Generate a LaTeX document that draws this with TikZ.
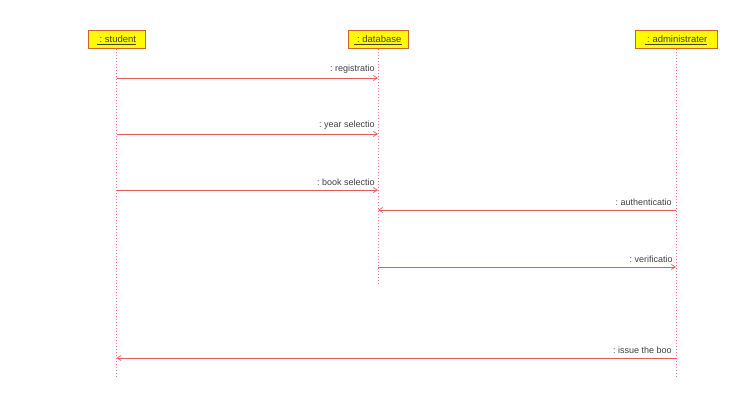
\documentclass[tikz,border=0pt]{standalone}
\usepackage{fontspec}
\setmainfont{Liberation Sans}
\usetikzlibrary{arrows.meta}
\definecolor{life}{RGB}{235,120,120}
\definecolor{msg}{RGB}{230,90,90}
\definecolor{boxborder}{RGB}{205,100,40}
\definecolor{boxfill}{RGB}{255,250,0}
\definecolor{boxtext}{RGB}{70,70,20}
\tikzset{
  obj/.style={draw=boxborder, line width=1pt, fill=boxfill, minimum height=18pt, inner sep=1pt, font=\fontsize{9.5}{10}\selectfont, text=boxtext},
  lifeline/.style={draw=life, line width=0.8pt, dash pattern=on 0.8pt off 2.2pt},
  message/.style={draw=msg, line width=0.7pt, -{Straight Barb[length=4pt,width=5pt]}},
  mlabel/.style={font=\fontsize{9}{10}\selectfont, text=black!75, anchor=south east, inner sep=1pt}
}
\begin{document}
\begin{tikzpicture}[x=1pt,y=-1pt]
\useasboundingbox (0,0) rectangle (753,401);
\node[obj, minimum width=57pt] (s) at (116.5,40) {\underline{\ :\ student}};
\node[obj, minimum width=60pt] (d) at (378,40) {\underline{\ :\ database}};
\node[obj, minimum width=82pt] (a) at (676,40) {\underline{\ :\ administrater}};
\coordinate (sE) at (116.5,378);
\coordinate (dE) at (378,285);
\coordinate (aE) at (676,378);
\draw[lifeline] (s.south) -- (sE);
\draw[lifeline] (d.south) -- (dE);
\draw[lifeline] (a.south) -- (aE);
\foreach \n/\y in {1/78,2/134,3/190}{
  \coordinate (s\n) at (116.5,\y);
  \coordinate (d\n) at (378,\y);
}
\coordinate (a4) at (676,210); \coordinate (d4) at (378,210);
\coordinate (d5) at (378,267); \coordinate (a5) at (676,267);
\coordinate (a6) at (676,358); \coordinate (s6) at (116.5,358);
\draw[message] (s1) -- (d1) node[mlabel, pos=1, xshift=-2pt, yshift=3pt] {:\ registratio};
\draw[message] (s2) -- (d2) node[mlabel, pos=1, xshift=-2pt, yshift=3pt] {:\ year selectio};
\draw[message] (s3) -- (d3) node[mlabel, pos=1, xshift=-2pt, yshift=3pt] {:\ book selectio};
\draw[message] (a4) -- (d4) node[mlabel, pos=0, xshift=-3pt, yshift=3pt] {:\ authenticatio};
\draw[message] (d5) -- (a5) node[mlabel, pos=1, xshift=-2pt, yshift=3pt] {:\ verificatio};
\draw[message] (a6) -- (s6) node[mlabel, pos=0, xshift=-3pt, yshift=3pt] {:\ issue the boo};
\end{tikzpicture}
\end{document}
